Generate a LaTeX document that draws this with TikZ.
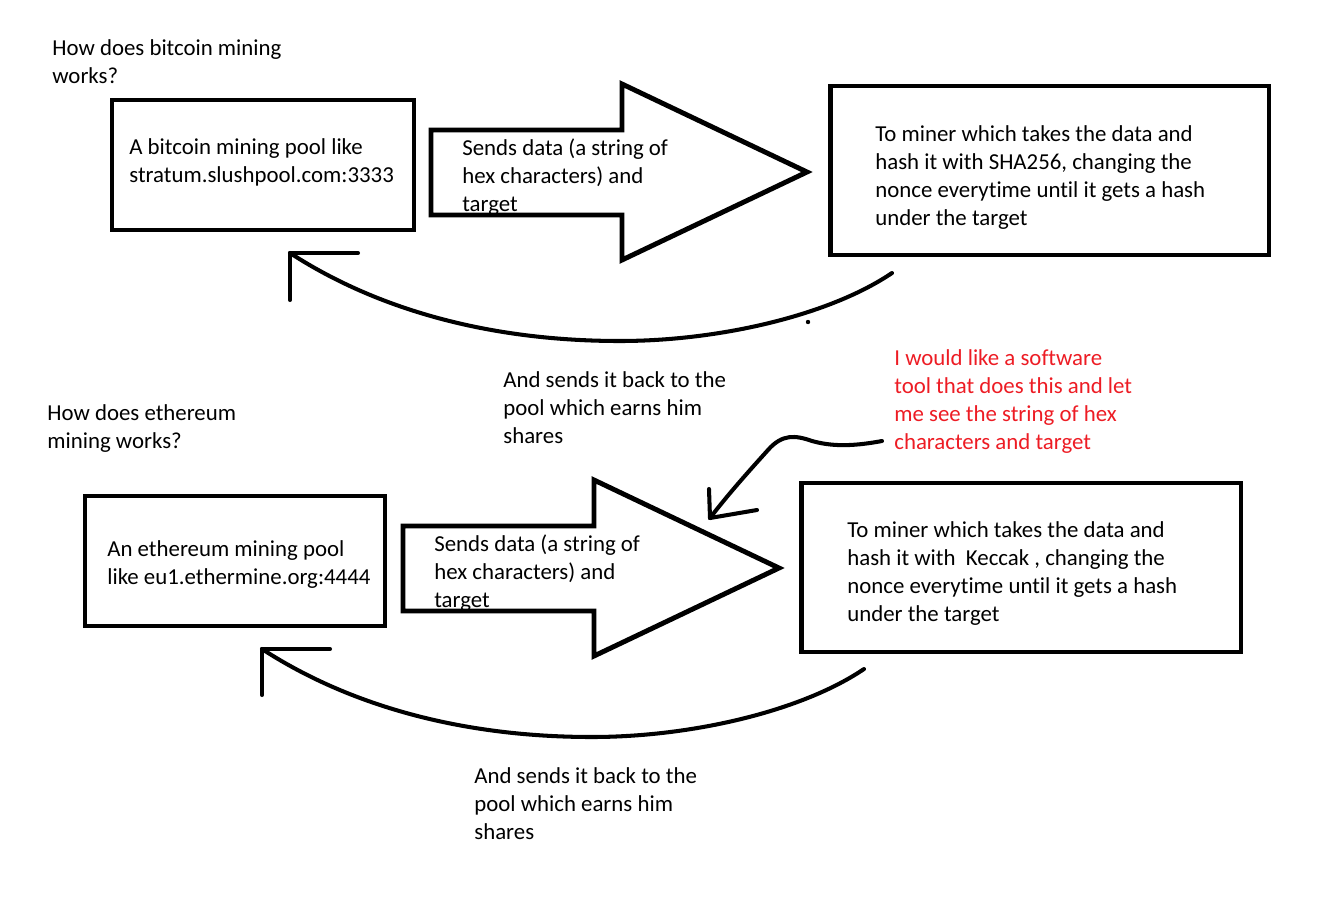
\documentclass[tikz,border=0pt]{standalone}
\usepackage{fontspec}
\setmainfont{Carlito}[Ligatures=NoCommon]
\usepackage{xcolor}
\usetikzlibrary{positioning}
\definecolor{notered}{RGB}{237,28,36}

\begin{document}
\begin{tikzpicture}[x=0.02cm, y=-0.02cm,
	box/.style = {draw, line width=2.8pt, inner sep=0pt},
	txt/.style = {anchor=base west, align=left, inner sep=0pt, font=\fontsize{13}{15.9}\selectfont},
	stroke/.style = {line width=2.3pt, line cap=round, line join=round}]
	\useasboundingbox (0,0) rectangle (1340,900);
	%%% bitcoin (text nodes sit on the baseline of their last line)
	\node [txt] (ask_btc) at (52,83) {How does bitcoin mining\\works?};
	\node [box, minimum width=6.04cm, minimum height=2.6cm] (pool_btc) at (263,165) {};
	\node [txt] (pool_btc_txt) at (129,182) {A bitcoin mining pool like\\stratum.slushpool.com:3333};
	\draw [box, line join=miter] (431,130) -- (622,130) -- (622,84) -- (807,172) -- (622,260) -- (622,215) -- (431,215) -- cycle;
	\node [txt] (send_btc) at (462,211) {Sends data (a string of\\hex characters) and\\target};
	\node [box, minimum width=8.78cm, minimum height=3.38cm] (miner_btc) at (1049.5,170.5) {};
	\node [txt] (miner_btc_txt) at (875,225) {To miner which takes the data and\\hash it with SHA256, changing the\\nonce everytime until it gets a hash\\under the target};
	\coordinate (ret_btc_from) at (892,273);
	\coordinate (ret_btc_low) at (620,341);
	\coordinate (ret_btc_tip) at (290,253);
	\draw [stroke] (ret_btc_from) .. controls (830,315) and (720,341) .. (ret_btc_low)
		.. controls (480,341) and (370,305) .. (ret_btc_tip);
	\draw [stroke] (ret_btc_tip) -- ++(68,0);
	\draw [stroke] (ret_btc_tip) -- ++(0,47);
	\fill (808,322) circle (2.2);
	\node [txt] (back_btc) at (503,443) {And sends it back to the\\pool which earns him\\shares};
	%%% ethereum
	\node [txt] (ask_eth) at (47,448) {How does ethereum\\mining works?};
	\node [box, minimum width=6cm, minimum height=2.6cm] (pool_eth) at (235,561) {};
	\node [txt] (pool_eth_txt) at (107,584) {An ethereum mining pool\\like eu1.ethermine.org:4444};
	\draw [box, line join=miter] (403,526) -- (594,526) -- (594,480) -- (779,568) -- (594,656) -- (594,611) -- (403,611) -- cycle;
	\node [txt] (send_eth) at (434,607) {Sends data (a string of\\hex characters) and\\target};
	\node [box, minimum width=8.8cm, minimum height=3.38cm] (miner_eth) at (1021,567.5) {};
	\node [txt] (miner_eth_txt) at (847,621) {To miner which takes the data and\\hash it with \ Keccak , changing the\\nonce everytime until it gets a hash\\under the target};
	\coordinate (ret_eth_from) at (864,669);
	\coordinate (ret_eth_low) at (592,737);
	\coordinate (ret_eth_tip) at (262,649);
	\draw [stroke] (ret_eth_from) .. controls (802,711) and (692,737) .. (ret_eth_low)
		.. controls (452,737) and (342,701) .. (ret_eth_tip);
	\draw [stroke] (ret_eth_tip) -- ++(68,0);
	\draw [stroke] (ret_eth_tip) -- ++(0,46);
	\node [txt] (back_eth) at (474,839) {And sends it back to the\\pool which earns him\\shares};
	%%% request
	\node [txt, text=notered] (wish) at (894,449) {I would like a software\\tool that does this and let\\me see the string of hex\\characters and target};
	\coordinate (wish_from) at (882,441);
	\coordinate (wish_tip) at (710,518);
	\draw [stroke] (wish_from) .. controls (850,447) and (830,446) .. (812,441)
		.. controls (795,435) and (782,434) .. (768,450)
		.. controls (750,470) and (730,492) .. (wish_tip);
	\draw [stroke] (wish_tip) -- (709,489);
	\draw [stroke] (wish_tip) -- (757,510);
\end{tikzpicture}
\end{document}
